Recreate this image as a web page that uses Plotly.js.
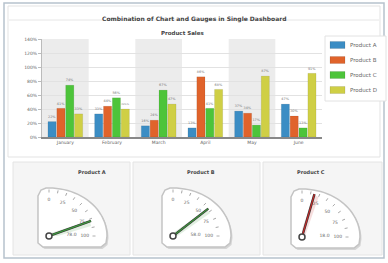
<!DOCTYPE html>
<html><head><meta charset="utf-8">
<script src="https://cdn.plot.ly/plotly-3.0.1.min.js"></script>
<style>html,body{margin:0;padding:0;background:#fff}#c{width:388px;height:263px}</style>
</head><body><div id="c"></div>
<script>
var months = ['January','February','March','April','May','June'];
var products = ['Product A','Product B','Product C','Product D'];
var productA = [22, 33, 16, 13, 37, 47];
var productB = [41, 44, 24, 86, 34, 30];
var productC = [74, 56, 67, 41, 17, 13];
var productD = [33, 40, 47, 68, 87, 91];
var productColors = ['#3b8dc4', '#e0632b', '#4dc43a', '#cfcf45'];
var yTickVals = [0, 20, 40, 60, 80, 100, 120, 140];
var gaugeNames = ['Product A', 'Product B', 'Product C'];
var gaugeValues = [78, 58, 18];
var gaugeTickVals = [0, 25, 50, 75, 100];
var gaugeNeedleColors = ['#3f9a3f', '#3f9a3f', '#c42a2a'];

var W = 388, H = 263;
function X(p){ return p / W; }
function Y(p){ return 1 - p / H; }

var series = [productA, productB, productC, productD];
var traces = [];
series.forEach(function(vals, i){
  traces.push({
    type: 'bar', x: months, y: vals, name: products[i],
    marker: {color: productColors[i], line: {color: 'rgba(0,0,0,0.15)', width: 0.5}},
    texttemplate: '%{y}%', textposition: 'outside', cliponaxis: false,
    textfont: {size: 4.5, color: '#777', family: 'DejaVu Sans'},
    showlegend: false, xaxis: 'x', yaxis: 'y'
  });
});

var shapes = [];
var annotations = [];
shapes.push({type:'rect', xref:'paper', yref:'paper', x0:X(4), x1:X(384), y0:Y(258), y1:Y(3), line:{color:'#b7c2cd', width:1.5}, fillcolor:'#fff', layer:'below'});
shapes.push({type:'rect', xref:'paper', yref:'paper', x0:X(8), x1:X(380), y0:Y(157), y1:Y(6), line:{color:'#e3e3e3', width:1}, fillcolor:'#fff', layer:'below'});
shapes.push({type:'line', xref:'paper', yref:'paper', x0:X(9), x1:X(379), y0:Y(20), y1:Y(20), line:{color:'#e6e6e6', width:1}, layer:'below'});
for (var k = 0; k < months.length; k += 2) {
  shapes.push({type:'rect', xref:'x', yref:'y domain', x0:k-0.5, x1:k+0.5, y0:0, y1:1, fillcolor:'#ececec', line:{width:0}, layer:'below'});
}
shapes.push({type:'rect', xref:'paper', yref:'paper', x0:X(325), x1:X(386), y0:Y(101), y1:Y(36), line:{color:'#e2e2e2', width:1}, fillcolor:'#fff', layer:'below'});
products.forEach(function(p, i){
  var cy = 45 + 15 * i;
  shapes.push({type:'rect', xref:'paper', yref:'paper', x0:X(330), x1:X(345), y0:Y(cy+3.5), y1:Y(cy-3.5), fillcolor:productColors[i], line:{color:'rgba(0,0,0,0.2)', width:0.5}});
  annotations.push({xref:'paper', yref:'paper', x:X(348), y:Y(cy), text:p, showarrow:false, xanchor:'left', yanchor:'middle', font:{size:5.5, color:'#666', family:'DejaVu Sans'}});
});
annotations.push({xref:'paper', yref:'paper', x:X(194), y:Y(13), text:'<b>Combination of Chart and Gauges in Single Dashboard</b>', showarrow:false, font:{size:6, color:'#444', family:'DejaVu Sans'}});
annotations.push({xref:'paper', yref:'paper', x:X(182), y:Y(28), text:'<b>Product Sales</b>', showarrow:false, font:{size:5.5, color:'#444', family:'DejaVu Sans'}});

var panels = [[13,130],[133,260],[263,382]];
var pivots = [[49,236],[173,236],[302,237]];
var R = 47;
var layoutExtra = {};
panels.forEach(function(pn, g){
  shapes.push({type:'rect', xref:'paper', yref:'paper', x0:X(pn[0]), x1:X(pn[1]), y0:Y(255), y1:Y(162), fillcolor:'#f5f5f5', line:{color:'#e4e4e4', width:1}, layer:'below'});
  annotations.push({xref:'paper', yref:'paper', x:X((pn[0]+pn[1])/2 + 4), y:Y(172), text:'<b>'+gaugeNames[g]+'</b>', showarrow:false, font:{size:5, color:'#444', family:'DejaVu Sans'}});
  var px = pivots[g][0], py = pivots[g][1], Rx = 58, Ry = 48;
  function facePath(dx, dy){
    var s = '';
    var n = 24;
    for (var j = 0; j <= n; j++) {
      var a = Math.PI/2 - (Math.PI/2) * j / n;
      var xx = px + dx + Rx * Math.cos(a), yy = py + dy - Ry * Math.sin(a);
      s += (j === 0 ? 'M' : 'L') + X(xx).toFixed(4) + ',' + Y(yy).toFixed(4) + ' ';
    }
    var pts = [[px+Rx-1, py+7],[px+Rx-6, py+11],[px-6, py+11],[px-11, py+7],[px-11, py-Ry+8],[px-8, py-Ry+2],[px-3, py-Ry]];
    pts.forEach(function(q){ s += 'L' + X(q[0]+dx).toFixed(4) + ',' + Y(q[1]+dy).toFixed(4) + ' '; });
    return s + 'Z';
  }
  shapes.push({type:'path', xref:'paper', yref:'paper', path:facePath(1.5, 2), fillcolor:'rgba(0,0,0,0.13)', line:{width:0}, layer:'below'});
  shapes.push({type:'path', xref:'paper', yref:'paper', path:facePath(0, 0), fillcolor:'#fff', line:{color:'#c4c4c4', width:1.5}, layer:'below'});

  var sub = g === 0 ? 'polar' : 'polar' + (g+1);
  layoutExtra[sub] = {
    domain: {x:[X(px), X(px+R)], y:[Y(py), Y(py-R)]},
    sector: [0, 90], bgcolor: 'rgba(0,0,0,0)',
    radialaxis: {visible:false, range:[0,1]},
    angularaxis: {rotation:90, direction:'clockwise', thetaunit:'degrees', showgrid:false, showline:true, linecolor:'rgba(0,0,0,0)',
      tickvals:[0,11.25,22.5,33.75,45,56.25,67.5,78.75,90], ticks:'inside', ticklen:3, tickcolor:'#999', tickwidth:0.8, showticklabels:false}
  };
  traces.push({type:'scatterpolar', subplot:sub, mode:'text', r:gaugeTickVals.map(function(){return 0.76;}),
    theta:gaugeTickVals.map(function(v){return v*0.9;}), text:gaugeTickVals.map(String),
    textfont:{size:4.5, color:'#666', family:'DejaVu Sans'}, showlegend:false, hoverinfo:'skip', cliponaxis:false});
  traces.push({type:'scatterpolar', subplot:sub, mode:'text', r:[0.48], theta:[86], text:[gaugeValues[g].toFixed(1)],
    textfont:{size:4.5, color:'#666', family:'DejaVu Sans'}, showlegend:false, hoverinfo:'skip', cliponaxis:false});
  var th = gaugeValues[g] * 0.9;
  traces.push({type:'scatterpolar', subplot:sub, mode:'lines', r:[0, 0.92], theta:[th+4, th+3], line:{color:gaugeNeedleColors[g], width:5}, opacity:0.15, showlegend:false, hoverinfo:'skip'});
  traces.push({type:'scatterpolar', subplot:sub, mode:'lines', r:[0, 0.95], theta:[th, th], line:{color:'#333', width:2.4}, showlegend:false, hoverinfo:'skip'});
  traces.push({type:'scatterpolar', subplot:sub, mode:'lines', r:[0, 0.95], theta:[th, th], line:{color:gaugeNeedleColors[g], width:1.2}, showlegend:false, hoverinfo:'skip'});
  traces.push({type:'scatterpolar', subplot:sub, mode:'markers', r:[0], theta:[0], marker:{size:6, color:'#fff', line:{color:'#444', width:1.5}}, showlegend:false, hoverinfo:'skip', cliponaxis:false});
});

var layout = {
  width: W, height: H, margin: {l:0, r:0, t:0, b:0},
  paper_bgcolor: '#fff', plot_bgcolor: 'rgba(0,0,0,0)',
  barmode: 'group', bargap: 0.24, bargroupgap: 0.08,
  font: {family: 'DejaVu Sans', size: 5, color: '#555'},
  xaxis: {domain:[X(42), X(322)], anchor:'y', type:'category', showline:true, linecolor:'#888', linewidth:1.5,
    ticks:'', tickfont:{size:4.5, color:'#666'}, fixedrange:true},
  yaxis: {domain:[Y(137), Y(39)], anchor:'x', range:[0,140], tickvals:yTickVals, ticktext:yTickVals.map(function(v){return v+'%';}),
    showline:true, linecolor:'#bbb', gridcolor:'#e2e2e2', zeroline:false, tickfont:{size:4.5, color:'#666'}, ticks:'outside', ticklen:3, tickcolor:'#bbb'},
  shapes: shapes, annotations: annotations, showlegend: false
};
Object.keys(layoutExtra).forEach(function(k){ layout[k] = layoutExtra[k]; });
Plotly.newPlot('c', traces, layout, {displayModeBar:false, staticPlot:true});
</script></body></html>
